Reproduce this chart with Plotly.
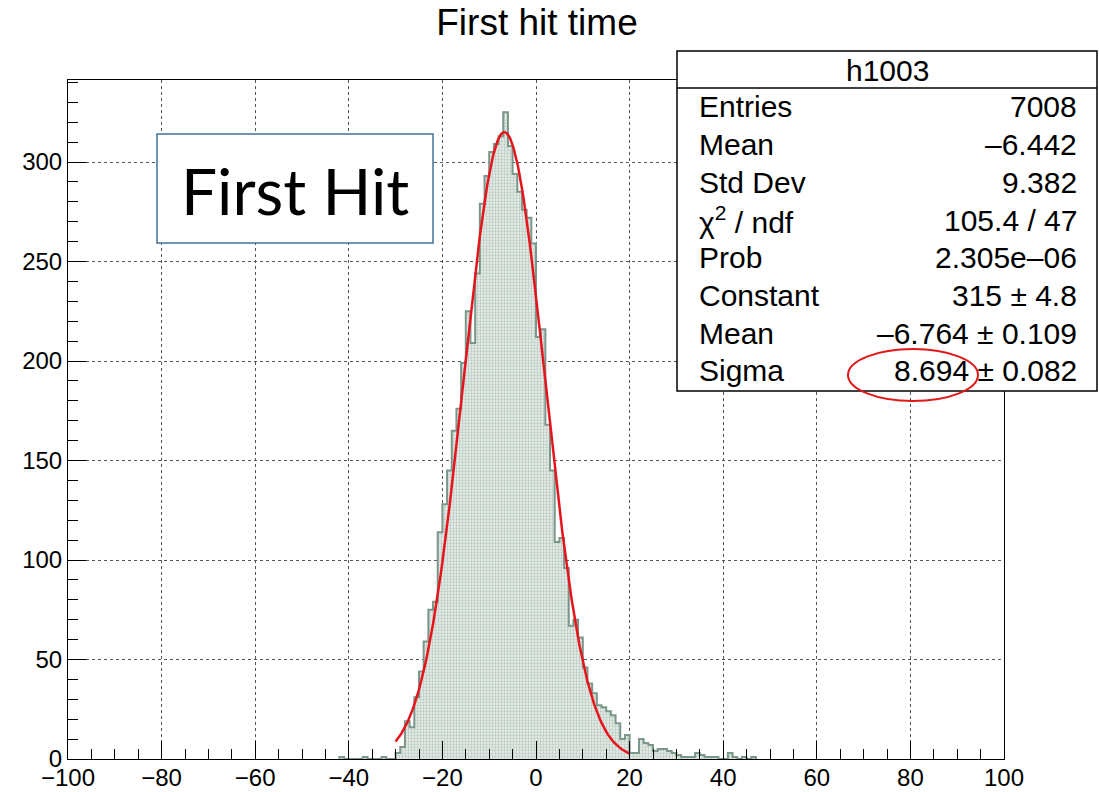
import numpy as np
import plotly.graph_objects as go

# ---------------- data ----------------
title_text = "First hit time"
hist_name = "h1003"
bin_width = 1
bin_start = -42  # left edge of first listed bin; all other bins in [-100,100] are empty
counts = [
    1, 0, 0, 0, 0, 1, 0, 0, 0, 1, 0, 0,              # -42 .. -31
    3, 6, 19, 16, 31, 44, 59, 75, 79,                 # -30 .. -22
    114, 128, 145, 165, 176, 199, 225, 209, 244, 279, # -21 .. -12
    293, 305, 309, 313, 325, 308, 294, 285, 276, 272, # -11 .. -2
    259, 212, 216, 168, 145, 109, 111, 96, 67, 70,    # -1 .. 8
    61, 46, 38, 33, 27, 26, 24, 22, 18, 10, 12,       # 9 .. 19
    3, 3, 10, 8, 7, 4, 5, 5, 4, 3, 2, 1, 1, 1, 3, 2,  # 20 .. 35
    1, 1, 1, 0, 0, 3, 1, 0, 1, 0, 1,                  # 36 .. 46
]
fit_const = 315.0
fit_mean = -6.764
fit_sigma = 8.694
fit_range = [-30, 20]

stats_labels = ["Entries", "Mean", "Std Dev", "χ<sup>2</sup> / ndf", "Prob",
                "Constant", "Mean", "Sigma"]
stats_values = ["7008", "–6.442", "9.382", "105.4 / 47", "2.305e–06",
                "315 ± 4.8", "–6.764 ± 0.109", "8.694 ± 0.082"]

x_ticks = [-100, -80, -60, -40, -20, 0, 20, 40, 60, 80, 100]
y_ticks = [0, 50, 100, 150, 200, 250, 300]

# ---------------- geometry helpers ----------------
W, H = 1099, 792
L, R, T, B = 68, 1004, 80, 759  # plot frame in pixels


def px(xp):
    return (xp - L) / (R - L)


def py(yp):
    return (B - yp) / (B - T)


FONT = "Liberation Sans, Arial, Helvetica, sans-serif"

# ---------------- histogram outline ----------------
edges = [bin_start + i * bin_width for i in range(len(counts) + 1)]
xs = [edges[0]] + edges + [edges[-1]]
ys = [0] + counts + [counts[-1]] + [0]

fig = go.Figure()
fig.add_trace(go.Scatter(
    x=xs, y=ys, mode="lines", line=dict(color="#7b978a", width=2, shape="hv"),
    fill="tozeroy", fillcolor="rgba(0,0,0,0)",
    fillpattern=dict(shape=".", fgcolor="#8fa99b", bgcolor="#e6ede9", size=3, solidity=0.45),
    hoverinfo="skip", showlegend=False,
))

# fit curve (gaussian with the fitted parameters shown in the stats box)
xf = np.linspace(fit_range[0], fit_range[1], 400)
yf = fit_const * np.exp(-0.5 * ((xf - fit_mean) / fit_sigma) ** 2)
fig.add_trace(go.Scatter(x=xf, y=yf, mode="lines", line=dict(color="#e8141c", width=2.5),
                         hoverinfo="skip", showlegend=False))

axis_common = dict(
    showline=True, linecolor="black", linewidth=1, mirror=True, automargin=False,
    ticks="inside", ticklen=18, tickcolor="black", tickwidth=1,
    showgrid=True, gridcolor="#555", griddash="dot", gridwidth=1,
    zeroline=False, tickfont=dict(family=FONT, size=24, color="black"),
)
fig.update_xaxes(range=[-100, 100], tickmode="array", tickvals=x_ticks,
                 ticktext=[("−" + str(-v)) if v < 0 else str(v) for v in x_ticks],
                 ticklabelstandoff=-3,
                 minor=dict(dtick=5, tick0=0, ticks="inside", ticklen=10, tickcolor="black", showgrid=False),
                 **axis_common)
fig.update_yaxes(range=[0, (B - T) / 1.99], tickmode="array", tickvals=y_ticks,
                 minor=dict(dtick=10, tick0=0, ticks="inside", ticklen=10, tickcolor="black", showgrid=False),
                 **axis_common)

shapes = []
annotations = []

# "First Hit" box
shapes.append(dict(type="rect", xref="paper", yref="paper", x0=px(157), x1=px(433), y0=py(243), y1=py(134),
                   line=dict(color="#41719c", width=1.5), fillcolor="white", layer="above"))
annotations.append(dict(xref="paper", yref="paper", x=px(295), y=py(190), text="First Hit", showarrow=False,
                        font=dict(family="Lato, Open Sans, sans-serif", size=64, color="black"),
                        xanchor="center", yanchor="middle"))

# stats box
sb_l, sb_r, sb_t, sb_b = 677, 1097, 51, 391
shapes.append(dict(type="rect", xref="paper", yref="paper", x0=px(sb_l), x1=px(sb_r), y0=py(sb_b), y1=py(sb_t),
                   line=dict(color="black", width=1.5), fillcolor="white", layer="above"))
shapes.append(dict(type="line", xref="paper", yref="paper", x0=px(sb_l), x1=px(sb_r), y0=py(88), y1=py(88),
                   line=dict(color="black", width=1.5), layer="above"))
annotations.append(dict(xref="paper", yref="paper", x=px((sb_l + sb_r) / 2), y=py(70), text=hist_name,
                        showarrow=False, font=dict(family=FONT, size=30, color="black"),
                        xanchor="center", yanchor="middle"))
row_y0, row_dy = 107, 37.7
for i, (lab, val) in enumerate(zip(stats_labels, stats_values)):
    yy = py(row_y0 + i * row_dy)
    annotations.append(dict(xref="paper", yref="paper", x=px(697), y=yy, text=lab, showarrow=False,
                            font=dict(family=FONT, size=30, color="black"), xanchor="left", yanchor="middle"))
    annotations.append(dict(xref="paper", yref="paper", x=px(1079), y=yy, text=val, showarrow=False,
                            font=dict(family=FONT, size=30, color="black"), xanchor="right", yanchor="middle"))

# red ellipse around the sigma value
shapes.append(dict(type="circle", xref="paper", yref="paper", x0=px(848), x1=px(978), y0=py(401), y1=py(349),
                   line=dict(color="#e01818", width=2), layer="above"))

fig.update_layout(
    width=W, height=H,
    margin=dict(l=L, r=W - R, t=T, b=H - B),
    paper_bgcolor="white", plot_bgcolor="white",
    title=dict(text=title_text, x=px(537), xref="paper", xanchor="center",
               y=1 - 22 / H, yref="container", yanchor="middle",
               font=dict(family=FONT, size=37, color="black")),
    shapes=shapes, annotations=annotations,
    showlegend=False,
)

fig.write_html("out.html")
